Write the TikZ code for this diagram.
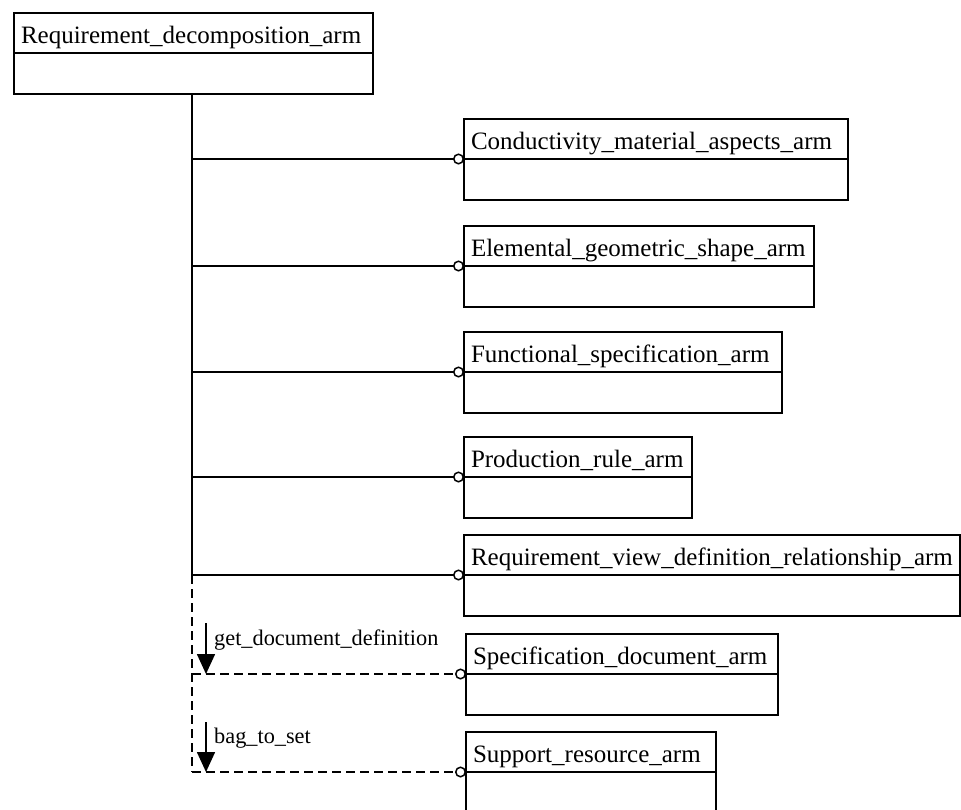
\documentclass[tikz,border=0pt]{standalone}
\usepackage{fontspec}
\setmainfont{Liberation Serif}
\usetikzlibrary{arrows.meta}
\tikzset{
  lw/.style={line width=1.8pt},
  clstitle/.style={draw, lw, anchor=north west, outer sep=0pt, minimum height=40pt, inner xsep=7pt, inner ysep=0pt, text height=25pt, text depth=5pt, align=left, font=\fontsize{25}{28}\selectfont},
  clsbody/.style={draw, lw, anchor=north west, outer sep=0pt, minimum height=41pt, inner sep=0pt},
  link/.style={lw, -{Circle[open, length=11pt, width=11pt, line width=1.5pt]}},
  dlink/.style={link, dash pattern=on 9pt off 5pt},
  trunk/.style={lw},
  dtrunk/.style={lw, dash pattern=on 9pt off 5pt},
  callarrow/.style={line width=1.6pt, -{Triangle[length=20pt, width=18pt]}},
  calllabel/.style={anchor=base west, inner sep=0pt, font=\fontsize{22.3}{24}\selectfont}
}
\newcommand\umlcls[5]{%
  \node[clstitle, text width=#4] (#1) at (#2,#3) {#5};
  \node[clsbody, minimum width=#4+14pt] (#1b) at (#1.south west) {};
}
\begin{document}
\begin{tikzpicture}[x=1pt, y=-1pt]
\useasboundingbox (0,0) rectangle (961,809);
\clip (0,0) rectangle (961,809);
\fill[white] (0,0) rectangle (961,809);
\umlcls{top}{14}{13}{345pt}{Requirement\_decomposition\_arm}
\umlcls{cond}{464}{119}{370pt}{Conductivity\_material\_aspects\_arm}
\umlcls{elem}{464}{226}{336pt}{Elemental\_geometric\_shape\_arm}
\umlcls{func}{464}{332}{304pt}{Functional\_specification\_arm}
\umlcls{prod}{464}{437}{214pt}{Production\_rule\_arm}
\umlcls{rvd}{464}{535}{482pt}{Requirement\_view\_definition\_relationship\_arm}
\umlcls{spec}{466}{634}{298pt}{Specification\_document\_arm}
\umlcls{supp}{466}{732}{236pt}{Support\_resource\_arm}
% trunk
\coordinate (t0) at (192,95);
\draw[trunk] (t0) -- (rvd.south west -| t0);
\draw[dtrunk] (rvd.south west -| t0) -- (supp.south west -| t0);
\draw[link] (cond.south west -| t0) -- (cond.south west);
\draw[link] (elem.south west -| t0) -- (elem.south west);
\draw[link] (func.south west -| t0) -- (func.south west);
\draw[link] (prod.south west -| t0) -- (prod.south west);
\draw[link] (rvd.south west -| t0) -- (rvd.south west);
\draw[dlink] (spec.south west -| t0) -- (spec.south west);
\draw[dlink] (supp.south west -| t0) -- (supp.south west);
% call arrows
\coordinate (a1) at (206,623);
\coordinate (a2) at (206,722);
\draw[callarrow] (a1) -- (a1 |- spec.south west);
\draw[callarrow] (a2) -- (a2 |- supp.south west);
\node[calllabel] (l1) at (214,645) {get\_document\_definition};
\node[calllabel] (l2) at (214,743) {bag\_to\_set};
\end{tikzpicture}
\end{document}
